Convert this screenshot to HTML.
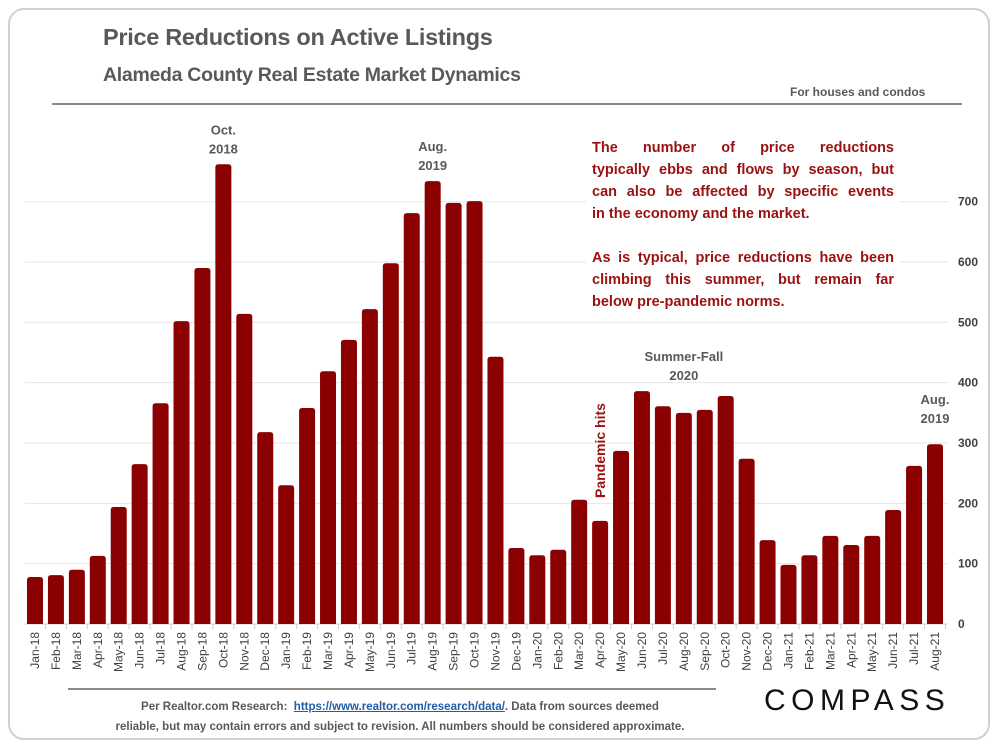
<!DOCTYPE html>
<html><head><meta charset="utf-8"><style>
body{margin:0;width:1000px;height:750px;background:#fff;font-family:"Liberation Sans",Arial,sans-serif;overflow:hidden}
.card{position:absolute;left:8px;top:8px;width:982px;height:732px;border:2px solid #d0d0d0;border-radius:16px;box-sizing:border-box}
.t{position:absolute;color:#595959;font-weight:bold;white-space:nowrap}
.j{display:block;text-align:justify;text-align-last:justify;white-space:nowrap}
.jl{display:block;white-space:nowrap}
</style></head><body>
<div class="card"></div>
<div class="t" style="left:103px;top:24px;font-size:23.5px;letter-spacing:-0.3px">Price Reductions on Active Listings</div>
<div class="t" style="left:103px;top:64px;font-size:19.5px;letter-spacing:-0.3px">Alameda County Real Estate Market Dynamics</div>
<div class="t" style="left:790px;top:85px;font-size:12px">For houses and condos</div>
<div style="position:absolute;left:52px;top:103px;width:910px;height:2px;background:#8a8a8a"></div>
<svg id="chart" width="1000" height="750" style="position:absolute;left:0;top:0"></svg>
<div style="position:absolute;left:586px;top:137px;width:302px;padding:0 6px;background:#fff;font-size:14.5px;font-weight:bold;color:#9b1010;line-height:22px">
<span class="j">The number of price reductions</span>
<span class="j">typically ebbs and flows by season, but</span>
<span class="j">can also be affected by specific events</span>
<span class="jl">in the economy and the market.</span>
<div style="height:22px"></div>
<span class="j">As is typical, price reductions have been</span>
<span class="j">climbing this summer, but remain far</span>
<span class="jl">below pre-pandemic norms.</span>
</div>
<div style="position:absolute;left:68px;top:688px;width:648px;height:2px;background:#8a8a8a"></div>
<div style="position:absolute;left:60px;top:697px;width:680px;font-size:11.5px;font-weight:bold;color:#595959;text-align:center;line-height:20px">Per Realtor.com Research: &nbsp;<span style="color:#1f5fa8;text-decoration:underline">https://www.realtor.com/research/data/</span>. Data from sources deemed<br>reliable, but may contain errors and subject to revision. All numbers should be considered approximate.</div>
<div style="position:absolute;left:764px;top:684px;font-size:30px;letter-spacing:5.5px;color:#111">COMPASS</div>
<script>
const categories=["Jan-18","Feb-18","Mar-18","Apr-18","May-18","Jun-18","Jul-18","Aug-18","Sep-18","Oct-18","Nov-18","Dec-18","Jan-19","Feb-19","Mar-19","Apr-19","May-19","Jun-19","Jul-19","Aug-19","Sep-19","Oct-19","Nov-19","Dec-19","Jan-20","Feb-20","Mar-20","Apr-20","May-20","Jun-20","Jul-20","Aug-20","Sep-20","Oct-20","Nov-20","Dec-20","Jan-21","Feb-21","Mar-21","Apr-21","May-21","Jun-21","Jul-21","Aug-21"];
const values=[78,81,90,113,194,265,366,502,590,762,514,318,230,358,419,471,522,598,681,734,698,701,443,126,114,123,206,171,287,386,361,350,355,378,274,139,98,114,146,131,146,189,262,298];
const yTicks=[0,100,200,300,400,500,600,700];
const NS="http://www.w3.org/2000/svg";
const svg=document.getElementById('chart');
const x0=35,step=(935-35)/43,y0=624,ppu=0.6033,bw=16;
const X=i=>x0+i*step, Y=v=>y0-v*ppu;
function mk(t,a){const e=document.createElementNS(NS,t);for(const k in a)e.setAttribute(k,a[k]);svg.appendChild(e);return e;}
yTicks.forEach(v=>{
 if(v>0){const g=mk('line',{x1:25,x2:948,y1:Y(v),y2:Y(v),stroke:'#e6e6e6','stroke-width':1});
 
 }
 const t=mk('text',{x:958,y:Y(v)+4,'font-size':12,'font-weight':'bold',fill:'#404040'});
 t.textContent=v;
 
 
});
const ax=mk('line',{x1:25,x2:948,y1:y0,y2:y0,stroke:'#cfcfcf','stroke-width':1});


categories.forEach((c,i)=>{
 const x=X(i),top=Y(values[i]),r=3;
 const p=mk('path',{d:`M${x-bw/2},${y0}V${top+r}Q${x-bw/2},${top} ${x-bw/2+r},${top}H${x+bw/2-r}Q${x+bw/2},${top} ${x+bw/2},${top+r}V${y0}Z`,fill:'#8b0000'});
 
 
 const tk=mk('line',{x1:x+step/2,x2:x+step/2,y1:y0,y2:y0+5,stroke:'#cfcfcf'});
 
 
 const t=mk('text',{x:x+4,y:y0+8,'font-size':12,fill:'#404040','text-anchor':'end',transform:`rotate(-90 ${x+4} ${y0+8})`});
 t.textContent=c;
 
 
});
function lab(lines,i,dy,name){lines.forEach((s,k)=>{const t=mk('text',{x:X(i),y:dy+k*19,'font-size':13,'font-weight':'bold',fill:'#595959','text-anchor':'middle'});t.textContent=s;
 
 });}
lab(["Oct.","2018"],9,Y(values[9])-30,'peak-label-oct-2018');
lab(["Aug.","2019"],19,Y(values[19])-30,'peak-label-aug-2019');
lab(["Summer-Fall","2020"],31,Y(values[29])-30,'summer-fall-2020-label');
lab(["Aug.","2019"],43,Y(values[43])-40,'latest-label');
const ph=mk('text',{x:605,y:498,'font-size':14,'font-weight':'bold',fill:'#9b1010',transform:'rotate(-90 605 498)'});
ph.textContent='Pandemic hits';


</script>
</body></html>
